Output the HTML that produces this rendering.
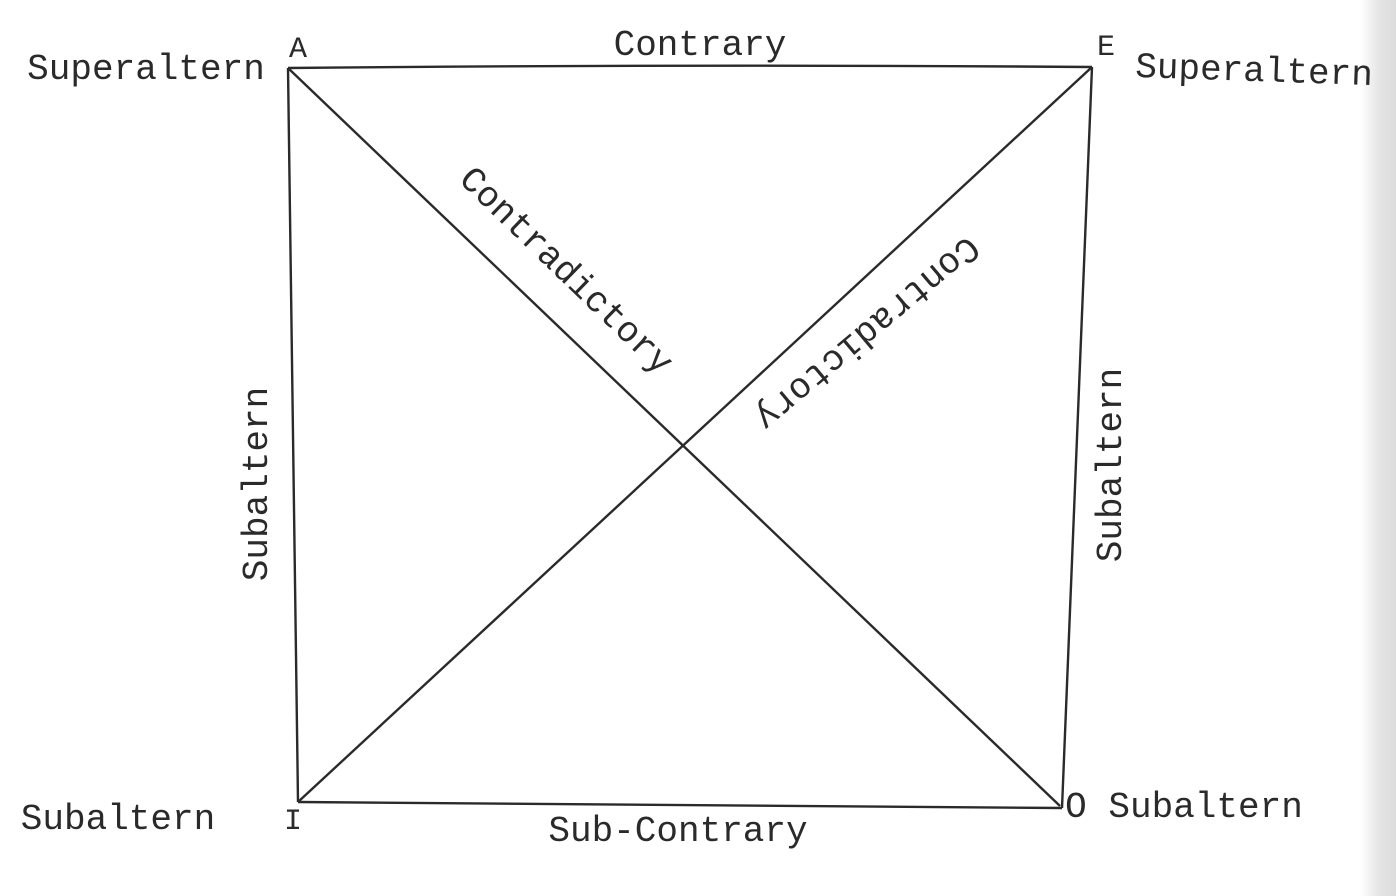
<!DOCTYPE html>
<html><head><meta charset="utf-8"><style>
body{margin:0;width:1396px;height:896px;overflow:hidden;background:#fff;position:relative;font-family:"Liberation Mono",monospace;color:#2a2a2a}
.g{position:absolute;right:0;top:0;width:36px;height:896px;background:linear-gradient(to right,#fff,#e4e4e4 55%,#dcdcdc)}
.t{position:absolute;font-size:36px;line-height:1;white-space:nowrap}
.c{transform:translate(-50%,-50%)}
svg{position:absolute;left:0;top:0}
</style></head><body>
<div class="g"></div>
<svg width="1396" height="896"><g stroke="#2a2a2a" stroke-width="2.4" fill="none">
<path d="M288 68 Q690 64 1092 67"/>
<line x1="288" y1="68" x2="298" y2="802"/>
<line x1="1092" y1="67" x2="1062" y2="808"/>
<line x1="298" y1="802" x2="1062" y2="808"/>
<line x1="288" y1="68" x2="1060" y2="806"/>
<line x1="1092" y1="67" x2="298" y2="802"/>
</g></svg>
<div class="t c" style="left:146px;top:70px">Superaltern</div>
<div class="t c" style="left:298px;top:50px;font-size:30px">A</div>
<div class="t c" style="left:700px;top:46px">Contrary</div>
<div class="t c" style="left:1106px;top:48px;font-size:30px">E</div>
<div class="t c" style="left:1254px;top:72px;transform:translate(-50%,-50%) rotate(2deg)">Superaltern</div>
<div class="t c" style="left:258px;top:484px;transform:translate(-50%,-50%) rotate(-90deg)">Subaltern</div>
<div class="t c" style="left:1112px;top:465px;transform:translate(-50%,-50%) rotate(-90deg)">Subaltern</div>
<div class="t c" style="left:565px;top:272px;transform:translate(-50%,-50%) rotate(44deg)">Contradictory</div>
<div class="t c" style="left:866px;top:332px;transform:translate(-50%,-50%) rotate(140deg)">Contradictory</div>
<div class="t c" style="left:118px;top:820px">Subaltern</div>
<div class="t c" style="left:293px;top:822px;font-size:30px">I</div>
<div class="t c" style="left:678px;top:832px">Sub-Contrary</div>
<div class="t c" style="left:1184px;top:808px">O Subaltern</div>
</body></html>
